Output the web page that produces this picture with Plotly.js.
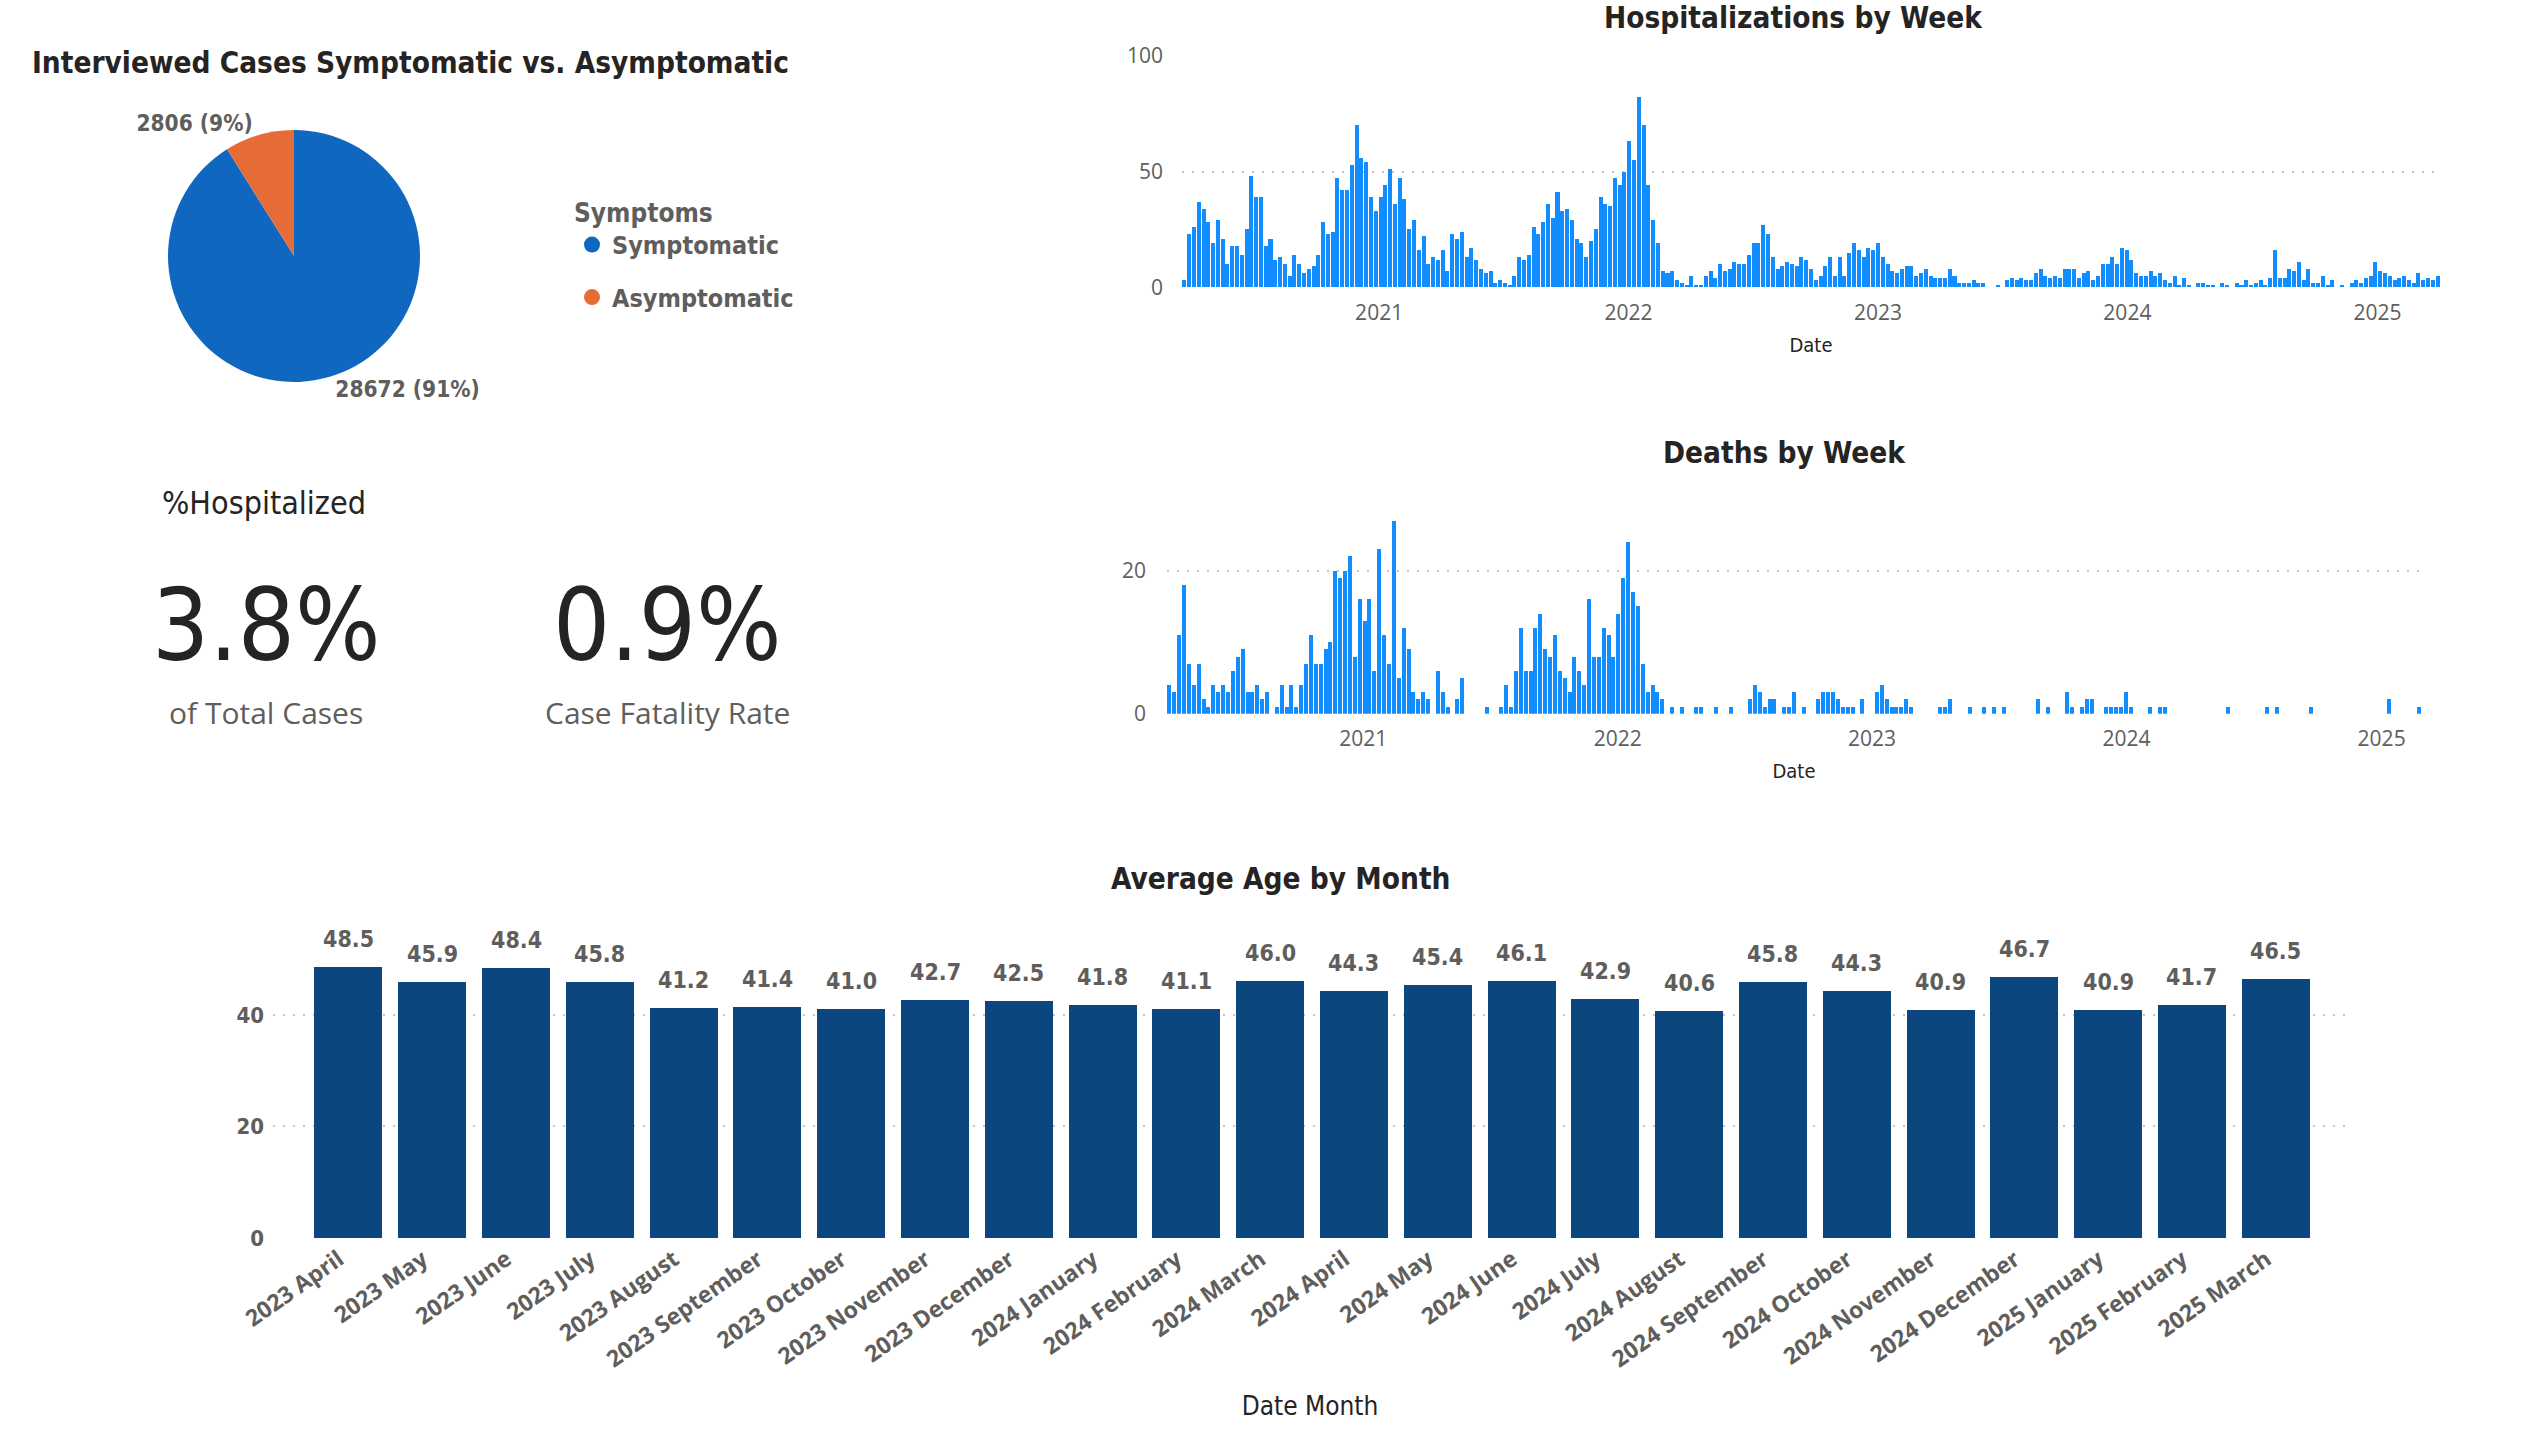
<!DOCTYPE html>
<html><head><meta charset="utf-8">
<script src="https://cdn.plot.ly/plotly-3.0.1.min.js"></script>
<style>html,body{margin:0;padding:0;background:#fff;overflow:hidden}#chart{width:2547px;height:1450px}</style>
</head><body><div id="chart"></div>
<script>
// ---------- DATA ----------
const symptomLabels = ['Symptomatic', 'Asymptomatic'];
const symptomCounts = [28672, 2806];
const symptomColors = ['#1067BF', '#E66C37'];

const kpiValues = [3.8, 0.9];
const kpiCaptions = ['of Total Cases', 'Case Fatality Rate'];

const hospStart = '2020-03-22';
const hospCounts = [
  3,23,26,37,34,28,19,29,21,10,
  18,18,14,25,48,39,39,18,21,12,
  13,10,5,14,10,6,8,9,14,28,
  23,24,47,42,42,53,70,56,54,39,
  33,39,44,51,36,47,38,25,29,16,
  22,10,13,12,16,7,23,21,24,13,
  17,12,8,6,7,2,3,2,1,5,
  13,12,14,26,23,28,36,30,41,33,
  34,29,21,19,13,20,25,39,36,35,
  47,44,50,63,55,82,70,44,29,19,
  7,6,7,3,2,1,5,1,1,5,
  7,4,10,7,8,11,10,10,14,19,
  19,27,23,13,8,9,11,10,9,13,
  12,8,3,5,9,13,5,13,5,15,
  19,16,13,17,16,19,13,10,7,6,
  8,9,9,5,6,8,5,4,4,4,
  8,5,2,2,2,3,2,2,0,0,
  1,0,3,4,3,4,3,3,6,8,
  5,4,5,4,8,8,8,4,6,7,
  3,5,10,10,13,10,17,16,12,6,
  5,5,7,5,6,3,2,5,1,4,
  1,0,2,2,1,1,0,2,1,0,
  2,1,3,1,2,3,1,4,16,4,
  4,8,7,11,3,8,2,2,5,1,
  3,0,1,0,2,3,2,4,5,11,
  7,6,5,3,4,5,3,2,6,3,
  4,3,5
];

const deathStart = '2020-03-29';
const deathCounts = [
  4,3,11,18,7,4,7,2,1,4,
  3,4,3,6,8,9,3,3,4,2,
  3,0,1,4,1,4,1,4,7,11,
  7,7,9,10,20,19,20,22,8,16,
  13,16,6,23,11,7,27,5,12,9,
  3,2,3,2,0,6,3,1,0,2,
  5,0,0,0,0,1,0,0,1,4,
  1,6,12,6,6,12,14,9,8,11,
  6,5,3,8,6,4,16,8,8,12,
  11,8,14,19,24,17,15,7,3,4,
  3,2,0,1,0,1,0,0,1,1,
  0,0,1,0,0,1,0,0,0,2,
  4,3,1,2,2,0,1,1,3,0,
  1,0,0,2,3,3,3,2,1,1,
  1,0,2,0,0,3,4,2,1,1,
  1,2,1,0,0,0,0,0,1,1,
  2,0,0,0,1,0,0,1,0,1,
  0,1,0,0,0,0,0,0,2,0,
  1,0,0,0,3,1,0,1,2,2,
  0,0,1,1,1,1,3,1,0,0,
  0,1,0,1,1,0,0,0,0,0,
  0,0,0,0,0,0,0,1,0,0,
  0,0,0,0,0,1,0,1,0,0,
  0,0,0,0,1,0,0,0,0,0,
  0,0,0,0,0,0,0,0,0,0,
  2,0,0,0,0,0,1
];

const ageMonths = ['2023 April','2023 May','2023 June','2023 July','2023 August','2023 September',
  '2023 October','2023 November','2023 December','2024 January','2024 February','2024 March',
  '2024 April','2024 May','2024 June','2024 July','2024 August','2024 September',
  '2024 October','2024 November','2024 December','2025 January','2025 February','2025 March'];
const ageValues = [48.5,45.9,48.4,45.8,41.2,41.4,41.0,42.7,42.5,41.8,41.1,46.0,
  44.3,45.4,46.1,42.9,40.6,45.8,44.3,40.9,46.7,40.9,41.7,46.5];

// ---------- HELPERS ----------
const W = 2547, H = 1450;
const px = v => v / W;
const py = v => 1 - v / H;
function weeks(start, n) {
  const out = [];
  const d0 = new Date(start + 'T00:00:00Z').getTime();
  for (let i = 0; i < n; i++) out.push(new Date(d0 + i * 7 * 86400000).toISOString().slice(0, 10));
  return out;
}
const WEEK = 7 * 86400000;
const DIN = 'DejaVu Sans Condensed, DejaVu Sans, sans-serif';
const SEGOE = 'Open Sans, Noto Sans, sans-serif';
const DARK = '#252423', GREY = '#605E5C', GRID = '#C8C6C4';

// ---------- TRACES ----------
const traces = [];
traces.push({
  type: 'pie', labels: symptomLabels, values: symptomCounts,
  marker: {colors: symptomColors},
  sort: false, direction: 'clockwise', rotation: 0,
  domain: {x: [px(167), px(421)], y: [py(382), py(130)]},
  textposition: 'outside', texttemplate: '%{value:.0f} (%{percent:.0%})',
  textfont: {family: DIN, size: 22.5, color: GREY, weight: 'bold'},
  showlegend: false, hoverinfo: 'label+value'
});
symptomLabels.forEach((lab, i) => traces.push({
  type: 'scatter', mode: 'markers', x: [null], y: [null], xaxis: 'x4', yaxis: 'y4',
  name: lab, legendgroup: lab, marker: {color: symptomColors[i], size: 16, symbol: 'circle'}
}));
traces.push({
  type: 'bar', x: weeks(hospStart, hospCounts.length), y: hospCounts,
  xaxis: 'x', yaxis: 'y', marker: {color: '#118DFF'}, width: WEEK * 0.84,
  showlegend: false, hovertemplate: '%{x}: %{y}<extra></extra>'
});
traces.push({
  type: 'bar', x: weeks(deathStart, deathCounts.length), y: deathCounts,
  xaxis: 'x2', yaxis: 'y2', marker: {color: '#118DFF'}, width: WEEK * 0.82,
  showlegend: false, hovertemplate: '%{x}: %{y}<extra></extra>'
});
traces.push({
  type: 'bar', x: ageMonths, y: ageValues, xaxis: 'x3', yaxis: 'y3',
  marker: {color: '#0B477E'}, width: 0.81,
  showlegend: false, hovertemplate: '%{x}: %{y:.1f}<extra></extra>'
});

// ---------- LAYOUT ----------
const gridY = {showgrid: true, gridcolor: GRID, gridwidth: 2, griddash: '2px,8px', zeroline: false, showline: false, ticks: ''};
const dateX = {
  type: 'date', tickformat: '%Y', dtick: 'M12', tick0: '2021-01-01',
  showgrid: false, zeroline: false, showline: false,
  ticks: 'outside', ticklen: 6, tickcolor: 'rgba(0,0,0,0)',
  tickfont: {family: SEGOE, size: 21, color: GREY},
  title: {text: 'Date', font: {family: DIN, size: 20, color: DARK}, standoff: 13}
};
const titleFont = {family: DIN, size: 29.5, color: DARK, weight: 'bold'};

const annotations = [
  {text: 'Interviewed Cases Symptomatic vs. Asymptomatic', x: px(30), y: py(63), xanchor: 'left', yanchor: 'middle', font: titleFont},
  {text: 'Hospitalizations by Week', x: px(1793), y: py(18), xanchor: 'center', yanchor: 'middle', font: titleFont},
  {text: 'Deaths by Week', x: px(1784), y: py(453), xanchor: 'center', yanchor: 'middle', font: titleFont},
  {text: 'Average Age by Month', x: px(1280), y: py(879), xanchor: 'center', yanchor: 'middle', font: titleFont},
  {text: '%Hospitalized', x: px(160), y: py(503), xanchor: 'left', yanchor: 'middle',
   font: {family: DIN, size: 32, color: DARK}},
];
const kpiX = [266, 667];
kpiValues.forEach((v, i) => {
  annotations.push({text: v.toFixed(1) + '%', x: px(kpiX[i]), y: py(625), xanchor: 'center', yanchor: 'middle',
    font: {family: DIN, size: 100, color: DARK}});
  annotations.push({text: kpiCaptions[i], x: px(kpiX[i]), y: py(712), xanchor: 'center', yanchor: 'middle',
    font: {family: SEGOE, size: 30, color: GREY}});
});
annotations.forEach(a => { a.xref = 'paper'; a.yref = 'paper'; a.showarrow = false; });
// value labels above the monthly bars
ageValues.forEach((v, i) => annotations.push({
  text: v.toFixed(1), x: ageMonths[i], y: v, xref: 'x3', yref: 'y3',
  xanchor: 'center', yanchor: 'bottom', yshift: 13, showarrow: false,
  font: {family: DIN, size: 23, color: GREY, weight: 'bold'}
}));

const layout = {
  width: W, height: H, margin: {l: 0, r: 0, t: 0, b: 0},
  paper_bgcolor: '#fff', plot_bgcolor: 'rgba(0,0,0,0)',
  bargap: 0, showlegend: true,
  legend: {
    x: px(572), y: py(188), xanchor: 'left', yanchor: 'top',
    title: {text: 'Symptoms', font: {family: DIN, size: 26, color: GREY, weight: 'bold'}},
    font: {family: DIN, size: 25, color: GREY, weight: 'bold'},
    traceorder: 'grouped', tracegroupgap: 17, itemsizing: 'trace', bgcolor: 'rgba(0,0,0,0)'
  },
  xaxis: Object.assign({}, dateX, {domain: [px(1182), px(2440)], anchor: 'y'}),
  yaxis: Object.assign({}, gridY, {domain: [py(287.3), py(55.7)], range: [0, 100], dtick: 50, anchor: 'x',
    ticklabelstandoff: 18, tickfont: {family: SEGOE, size: 21, color: GREY}}),
  xaxis2: Object.assign({}, dateX, {domain: [px(1167), px(2421)], anchor: 'y2'}),
  yaxis2: Object.assign({}, gridY, {domain: [py(713.7), py(499.2)], range: [0, 30], tickvals: [0, 20], anchor: 'x2',
    ticklabelstandoff: 20, tickfont: {family: SEGOE, size: 21, color: GREY}}),
  xaxis3: {domain: [px(273), px(2347)], anchor: 'y3', type: 'category', range: [-0.9, 23.85],
    tickmode: 'array', tickvals: ageMonths, ticktext: ageMonths.map(m => m + '\u2002'),
    tickangle: -35, showgrid: false, zeroline: false, showline: false,
    ticks: '', ticklabelstandoff: -4,
    tickfont: {family: SEGOE, size: 23, color: GREY, weight: 'bold'},
    title: {text: 'Date Month', font: {family: DIN, size: 26, color: DARK}, standoff: 23}},
  yaxis3: Object.assign({}, gridY, {domain: [py(1238), py(959)], range: [0, 50], dtick: 20, anchor: 'x3',
    ticklabelstandoff: 8, tickfont: {family: DIN, size: 22, color: GREY, weight: 'bold'}}),
  xaxis4: {visible: false, domain: [0, 0.001], anchor: 'y4'},
  yaxis4: {visible: false, domain: [0, 0.001], anchor: 'x4'},
  annotations: annotations
};

Plotly.newPlot('chart', traces, layout, {displayModeBar: false, staticPlot: true});
</script>
</body></html>
